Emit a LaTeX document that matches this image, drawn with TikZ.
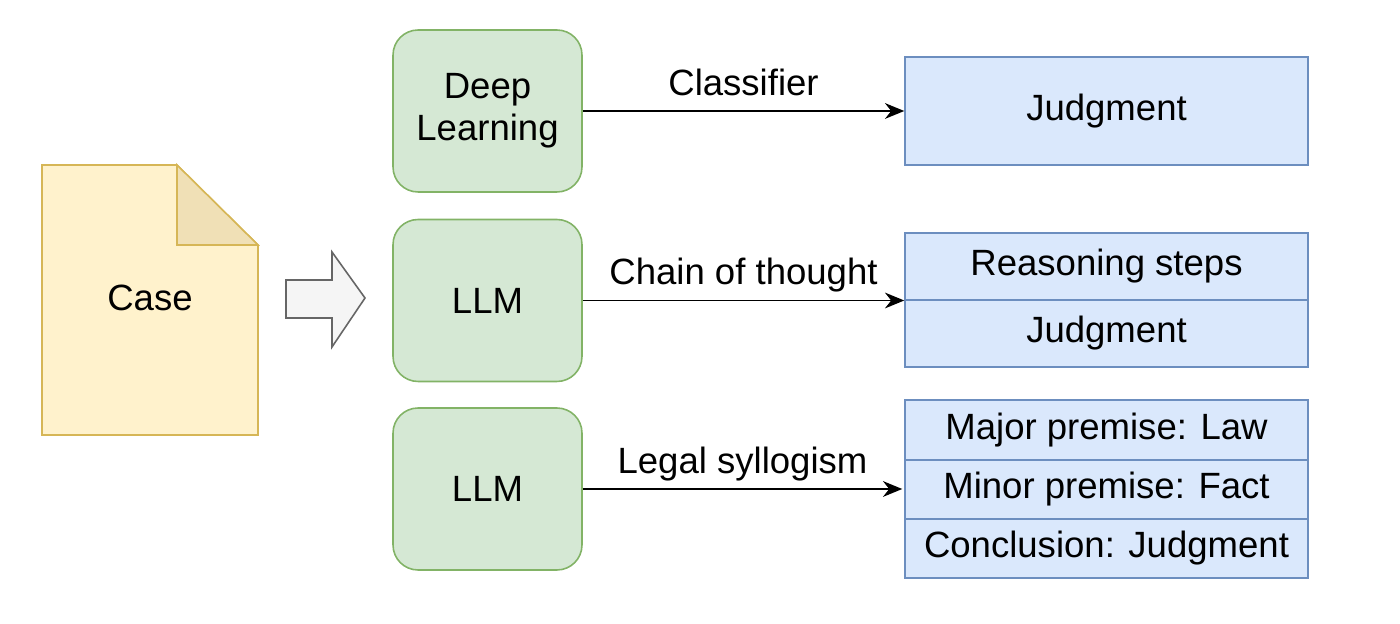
\documentclass[tikz,border=0pt]{standalone}
\usepackage{fontspec}
\setmainfont{Liberation Sans}
\usetikzlibrary{calc,arrows.meta}
\definecolor{caseFill}{HTML}{FFF2CC}
\definecolor{caseFold}{RGB}{240,224,182}
\definecolor{caseLine}{HTML}{D6B656}
\definecolor{modelFill}{HTML}{D5E8D4}
\definecolor{modelLine}{HTML}{82B366}
\definecolor{outFill}{HTML}{DAE8FC}
\definecolor{outLine}{HTML}{6C8EBF}
\tikzset{model/.style={draw=modelLine, fill=modelFill, line width=0.9pt, rounded corners=0.5cm,
            minimum width=3.78cm, minimum height=3.24cm, align=center}}
\tikzset{outbox/.style={draw=outLine, fill=outFill, line width=0.9pt, minimum width=8.06cm}}
\tikzset{flow/.style={-{Stealth[length=11pt,width=9pt]}, line width=0.9pt}}
\tikzset{tag/.style={anchor=south, yshift=3pt, text height=0.75em, text depth=0.22em}}

\begin{document}
\begin{tikzpicture}[x=0.02cm, y=-0.02cm, font=\fontsize{20.8}{24}\selectfont]
        \useasboundingbox (0,0) rectangle (1400,624);
        \pgfmathsetmacro{\mx}{487.5}
        \pgfmathsetmacro{\ox}{1106.5}

        % the case document
        \coordinate (CA) at (42,165);
        \coordinate (CB) at (177,165);
        \coordinate (CC) at (258,245);
        \coordinate (CD) at (258,435);
        \coordinate (CE) at (42,435);
        \filldraw[fill=caseFill, draw=caseLine, line width=0.9pt] (CA) -- (CB) -- (CC) -- (CD) -- (CE) -- cycle;
        \filldraw[fill=caseFold, draw=caseLine, line width=0.9pt] (CB) -- (CB|-CC) -- (CC) -- cycle;
        \node (case) at (150,298) {Case};
        %
        \filldraw[fill=gray!8, draw=gray!120, line width=0.9pt] (286,280) -- (332,280) -- (332,252) -- (365,298)
            -- (332,347) -- (332,318) -- (286,318) -- cycle;
        %
        \node[model] (dl) at (\mx,111) {Deep\\Learning};
        \node[model] (llmA) at (\mx,300.5) {LLM};
        \node[model] (llmB) at (\mx,489) {LLM};
        %
        \node[outbox, minimum height=2.16cm] (judge) at (\ox,111) {Judgment};
        \node[outbox, minimum height=1.34cm] (steps) at (\ox,266.5) {Reasoning steps};
        \node[outbox, minimum height=1.34cm] (judgeB) at (\ox,333.5) {Judgment};
        \node[outbox, minimum height=1.2cm] (major) at (\ox,430) {Major premise: Law};
        \node[outbox, minimum height=1.18cm] (minor) at (\ox,489.5) {Minor premise: Fact};
        \node[outbox, minimum height=1.18cm] (concl) at (\ox,548.5) {Conclusion: Judgment};
        %
        \draw[flow] (dl.east) -- node[tag]{Classifier} (judge.west);
        \draw[flow] (llmA.east) -- node[tag]{Chain of thought} (llmA.east -| steps.south west);
        \draw[flow] (llmB.east) -- node[tag]{Legal syllogism} ($(llmB.east -| minor.west)+(-2,0)$);
    \end{tikzpicture}
\end{document}
